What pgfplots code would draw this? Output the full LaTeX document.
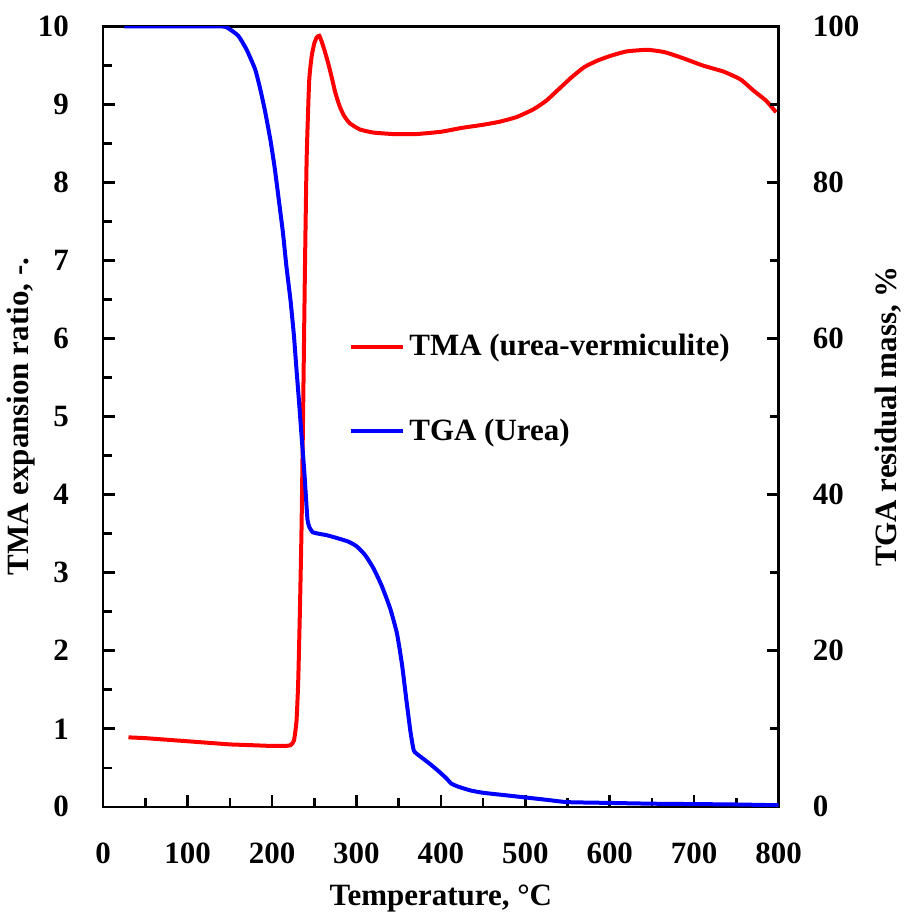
\documentclass[border=0pt]{standalone}
\usepackage{fontspec}
\setmainfont{Liberation Serif}
\usepackage{pgfplots}
\pgfplotsset{compat=1.18}
\pgfplotstableread{
x y
30 0.89
50 0.88
75 0.86
100 0.84
125 0.82
150 0.80
175 0.79
200 0.78
215 0.78
222 0.79
226 0.85
229 1.1
231 1.6
233 2.5
235 3.6
237 5.2
239 6.9
241 8.3
244 9.3
247 9.62
250 9.78
253 9.86
256 9.88
259 9.8
262 9.7
266 9.55
270 9.38
275 9.15
280 8.98
285 8.86
292 8.76
304 8.68
320 8.64
345 8.62
370 8.62
400 8.65
425 8.7
450 8.74
470 8.78
490 8.84
510 8.94
525 9.05
540 9.2
555 9.35
570 9.48
585 9.56
600 9.62
620 9.68
645 9.7
665 9.67
685 9.6
710 9.5
735 9.42
755 9.32
770 9.18
785 9.05
797 8.9
}\tma
\pgfplotstableread{
x y
25 100
134 100
146 99.9
160 98.8
170 97
180 94.5
186 92
192 89
198 85.5
203 82
208 77.8
213 73.5
217 69.3
222 64.8
226 60.3
229 56
232 51.9
235 47.5
238 43.3
240 40
242 36.8
244 35.9
248 35.2
255 35
265 34.8
275 34.5
290 34
300 33.4
310 32.3
320 30.6
330 28.3
340 25.4
348 22.2
354 18.2
359 13.8
364 9.6
368 7.2
375 6.5
387 5.5
398 4.5
407 3.6
412 3.0
420 2.6
435 2.1
450 1.8
475 1.5
500 1.2
525 0.9
550 0.6
600 0.5
650 0.4
700 0.35
750 0.3
800 0.2
}\tga
\begin{document}
\begin{tikzpicture}
\pgfplotsset{
  common/.style={
    scale only axis, width=338pt, height=390.5pt,
    xmin=0, xmax=800,
    tick align=inside,
    major tick length=6pt, minor tick length=4.5pt,
    every tick/.style={black, line width=1.3pt},
    axis line style={line width=1.3pt},
    /pgf/number format/assume math mode=true,
    tick label style={font=\fontsize{15.5}{18}\selectfont\bfseries, inner sep=0pt},
    label style={font=\fontsize{15.5}{18}\selectfont\bfseries},
  }
}
\begin{axis}[common,
  ymin=0, ymax=10,
  xtick={0,100,...,800}, minor x tick num=1,
  ytick={0,1,...,10}, minor y tick num=1,
  xtick pos=bottom, ytick pos=left,
  yticklabel style={xshift=-17pt},
  xticklabel style={yshift=-18pt},
  xlabel={Temperature, °C},
  ylabel={TMA expansion ratio, -.},
  xlabel style={yshift=-7pt},
  ylabel style={yshift=-2pt},
]
\addplot[red, line width=2pt, smooth, tension=0.3] table[x=x,y=y] {\tma};
\end{axis}
\begin{axis}[common,
  ymin=0, ymax=100,
  axis x line=none, axis y line*=right,
  ytick={0,20,...,100}, minor y tick num=1,
  yticklabel style={xshift=17pt},
  ylabel={TGA residual mass, \%},
  ylabel style={yshift=-4pt},
  legend style={at={(0.364,0.611)}, anchor=north west, draw=none, fill=none,
    font=\fontsize{15.5}{18}\selectfont\bfseries, row sep=26pt, inner sep=0pt},
  legend cell align=left,
  legend image code/.code={\draw[#1] (0pt,0pt) -- (26pt,0pt);},
]
\addlegendimage{red, line width=2pt}
\addlegendentry{TMA (urea-vermiculite)}
\addplot[blue, line width=2pt, smooth, tension=0.3] table[x=x,y=y] {\tga};
\addlegendentry{TGA (Urea)}
\end{axis}
\path ([yshift=8pt]current bounding box.north) -- ++(0,0);
\end{tikzpicture}
\end{document}
